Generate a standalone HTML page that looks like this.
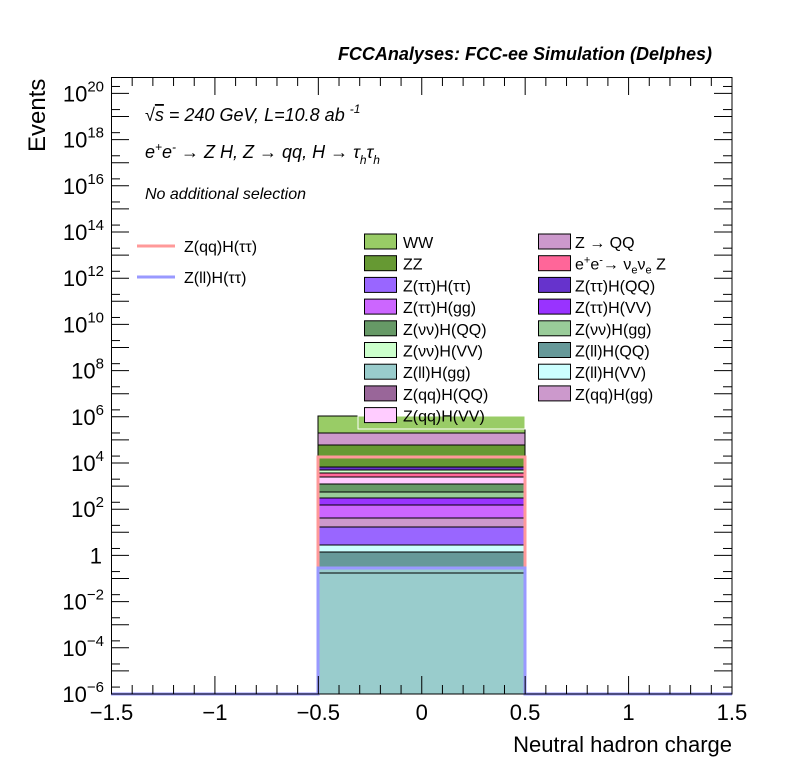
<!DOCTYPE html>
<html><head><meta charset="utf-8"><style>
body{margin:0;background:#fff}
svg text{font-family:"Liberation Sans",sans-serif}
</style></head><body>
<svg id="s" width="796" height="772" xmlns="http://www.w3.org/2000/svg">
<rect width="796" height="772" fill="#fff"/>
<g id="bars"></g>
<g id="ticks" stroke="#000" stroke-width="1"></g>
<rect x="111.5" y="77.5" width="620.5" height="616.5" fill="none" stroke="#000"/>
<text x="712" y="60" font-size="18" font-style="italic" font-weight="bold" text-anchor="end">FCCAnalyses: FCC-ee Simulation (Delphes)</text>
<text x="45" y="152" font-size="24" transform="rotate(-90 45 152)" text-anchor="start">Events</text>
<text x="732" y="752" font-size="22" text-anchor="end">Neutral hadron charge</text>
<text x="145" y="121" font-size="18" font-style="italic">√<tspan text-decoration="overline">s</tspan> = 240 GeV, L=10.8 ab <tspan font-size="12" dy="-8">-1</tspan></text>
<text x="145" y="158" font-size="18" font-style="italic">e<tspan font-size="12" dy="-7">+</tspan><tspan dy="7">e</tspan><tspan font-size="12" dy="-7">-</tspan><tspan dy="7"> → Z H, Z  → qq, H  → τ</tspan><tspan font-size="12" dy="6">h</tspan><tspan dy="-6">τ</tspan><tspan font-size="12" dy="6">h</tspan></text>
<text x="145" y="199" font-size="16" font-style="italic">No additional selection</text>
<line x1="137" y1="246" x2="175" y2="246" stroke="#ff9999" stroke-width="3"/>
<text x="184" y="252" font-size="16">Z(qq)H(ττ)</text>
<line x1="137" y1="277" x2="175" y2="277" stroke="#9999ff" stroke-width="3"/>
<text x="184" y="283" font-size="16">Z(ll)H(ττ)</text>
<g id="leg" font-size="16"></g>
<g id="lab" font-size="22"></g>
</svg>
<script>
const NS="http://www.w3.org/2000/svg";
function el(p,t,a,txt){const e=document.createElementNS(NS,t);for(const k in a)e.setAttribute(k,a[k]);if(txt!==undefined)e.textContent=txt;document.getElementById(p).appendChild(e);return e;}
const L=[[416,433,"#99cc66"],[433,445,"#cc99cc"],[445,458,"#669933"],[458,467,"#669933"],[467,470,"#6633cc"],[470,473,"#ccffcc"],[473,477,"#ff6699"],[477,484,"#ffccff"],[484,492,"#669966"],[492,498,"#99cc99"],[498,505,"#9933ff"],[505,518,"#cc66ff"],[518,527,"#cc99cc"],[527,545,"#9966ff"],[545,552,"#ccffff"],[552,568,"#669999"],[568,694,"#99cccc"]];
for(const [a,b,c] of L){el("bars","rect",{x:318,y:a,width:207,height:b-a,fill:c,stroke:"#000","stroke-width":1});}
el("bars","line",{x1:318,y1:573,x2:525,y2:573,stroke:"#000"});
el("bars","path",{d:"M318 694 V457 H525 V694",fill:"none",stroke:"#ff9999","stroke-width":3});
el("bars","path",{d:"M111 694 H318 V568 H525 V694 H732",fill:"none",stroke:"#9999ff","stroke-width":3});
for(let i=0;i<=30;i++){const x=111.5+i*620.5/30;const m=i%5==0;const len=m?18:9;
el("ticks","line",{x1:x,y1:694,x2:x,y2:694-len});el("ticks","line",{x1:x,y1:77,x2:x,y2:77+len});}
const xl=["−1.5","−1","−0.5","0","0.5","1","1.5"];
for(let i=0;i<7;i++){el("lab","text",{x:111.5+i*103.4,y:720,"text-anchor":"middle"},xl[i]);}
function Y(d){return 694-(d+6)*23.1;}
for(let d=-6;d<=20;d++){const y=Y(d);el("ticks","line",{x1:111,y1:y,x2:129,y2:y});el("ticks","line",{x1:732,y1:y,x2:714,y2:y});
const y2=Y(d+0.3);if(y2>77){el("ticks","line",{x1:111,y1:y2,x2:120,y2:y2});el("ticks","line",{x1:732,y1:y2,x2:723,y2:y2});}}
for(let d=-6;d<=20;d+=2){const y=Y(d)+8;
if(d==0){el("lab","text",{x:102,y:y,"text-anchor":"end"},"1");continue;}
const t=el("lab","text",{x:104,y:y,"text-anchor":"end"});
t.innerHTML='10<tspan font-size="15" dy="-10">'+(d<0?'−'+(-d):d)+'</tspan>';}
const c1=[["WW","#99cc66"],["ZZ","#669933"],["Z(ττ)H(ττ)","#9966ff"],["Z(ττ)H(gg)","#cc66ff"],["Z(νν)H(QQ)","#669966"],["Z(νν)H(VV)","#ccffcc"],["Z(ll)H(gg)","#99cccc"],["Z(qq)H(QQ)","#996699"],["Z(qq)H(VV)","#ffccff"]];
const c2=[["Z → QQ","#cc99cc"],["","#ff6699"],["Z(ττ)H(QQ)","#6633cc"],["Z(ττ)H(VV)","#9933ff"],["Z(νν)H(gg)","#99cc99"],["Z(ll)H(QQ)","#669999"],["Z(ll)H(VV)","#ccffff"],["Z(qq)H(gg)","#cc99cc"]];
el("leg","rect",{x:358,y:416,width:167,height:13,fill:"none",stroke:"#fff"});
c1.forEach((e,i)=>{const y=234+i*21.7;el("leg","rect",{x:364.5,y:y,width:32,height:15,fill:e[1],stroke:"#000"});el("leg","text",{x:403,y:y+14},e[0]);});
c2.forEach((e,i)=>{const y=234+i*21.7;el("leg","rect",{x:538.5,y:y,width:32,height:15,fill:e[1],stroke:"#000"});
if(i==1){const t=el("leg","text",{x:575,y:y+14});t.innerHTML='e<tspan font-size="11" dy="-6">+</tspan><tspan dy="6">e</tspan><tspan font-size="11" dy="-6">-</tspan><tspan dy="6">→ ν</tspan><tspan font-size="11" dy="4">e</tspan><tspan dy="-4">ν</tspan><tspan font-size="11" dy="4">e</tspan><tspan dy="-4"> Z</tspan>';}
else el("leg","text",{x:575,y:y+14},e[0]);});
</script>
</body></html>
